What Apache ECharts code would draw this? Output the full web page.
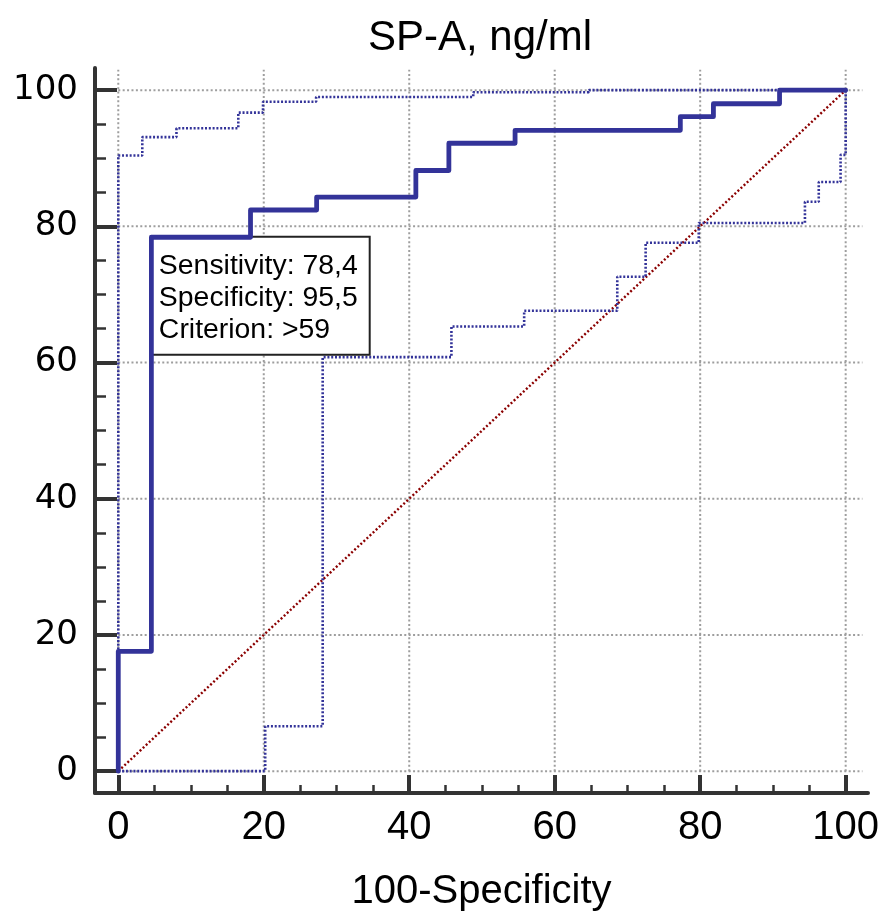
<!DOCTYPE html>
<html>
<head>
<meta charset="utf-8">
<script src="https://cdn.jsdelivr.net/npm/echarts@6/dist/echarts.min.js"></script>
<style>html,body{margin:0;padding:0;background:#fff}#c{width:883px;height:917px}</style>
</head>
<body>
<div id="c"></div>
<script>
// ---- data ----
var titleText = 'SP-A, ng/ml';
var xName = '100-Specificity';
var majorTicks = [0, 20, 40, 60, 80, 100];
var minorTicks = [5, 10, 15, 25, 30, 35, 45, 50, 55, 65, 70, 75, 85, 90, 95];
// ROC curve vertices (top of each vertical jump), step drawn horizontally first
var rocFpr = [0, 0, 4.55, 18.18, 27.27, 40.91, 45.45, 54.55, 77.27, 81.82, 90.91, 100];
var rocTpr = [0, 17.6, 78.4, 82.4, 84.3, 88.2, 92.2, 94.1, 96.1, 98.0, 100, 100];
// upper 95% confidence bound
var upFpr = [0, 0, 3.3, 8.0, 16.5, 19.9, 27.2, 48.8, 64.7, 100];
var upTpr = [0, 90.4, 93.1, 94.4, 96.7, 98.3, 99.0, 99.7, 100, 100];
// lower 95% confidence bound
var loFpr = [0, 20.2, 28.1, 45.8, 55.8, 68.6, 72.5, 79.8, 94.4, 96.3, 99.3, 100];
var loTpr = [0, 6.6, 60.8, 65.3, 67.6, 72.6, 77.6, 80.5, 83.6, 86.5, 90.5, 100];
// reference diagonal
var diagX = [0, 100];
var diagY = [0, 100];
// optimal criterion point and annotation
var optPoint = [4.55, 78.4];
var annotation = ['Sensitivity: 78,4', 'Specificity: 95,5', 'Criterion: >59'];

function zip(a, b) { return a.map(function (v, i) { return [v, b[i]]; }); }

var navy = '#333399';
var axisColor = '#333333';
var gridColor = '#9e9e9e';
var X_MIN = -3.2, X_MAX = 103.07, Y_MIN = -3.21, Y_MAX = 103.25;
var GX_END = 102.3, GY_END = 103.0;

var series = [];
// grid lines
majorTicks.forEach(function (t) {
  series.push({
    type: 'line', silent: true, symbol: 'none', z: 1, animation: false,
    data: [[t, 0], [t, GY_END]],
    lineStyle: { color: gridColor, width: 2, type: [2, 2.4] }
  });
  series.push({
    type: 'line', silent: true, symbol: 'none', z: 1, animation: false,
    data: [[0, t], [GX_END, t]],
    lineStyle: { color: gridColor, width: 2, type: [2, 2.4] }
  });
});
series.push({
  type: 'line', symbol: 'none', z: 3, animation: false,
  data: zip(diagX, diagY),
  lineStyle: { color: '#8b0000', width: 2.4, type: [2, 2.2] }
});
series.push({
  type: 'line', symbol: 'none', step: 'end', z: 4, animation: false,
  data: zip(upFpr, upTpr),
  lineStyle: { color: navy, width: 2.6, type: [2, 1.8] }
});
series.push({
  type: 'line', symbol: 'none', step: 'end', z: 4, animation: false,
  data: zip(loFpr, loTpr),
  lineStyle: { color: navy, width: 2.6, type: [2, 1.8] }
});
series.push({
  type: 'line', symbol: 'none', step: 'end', z: 5, animation: false,
  data: zip(rocFpr, rocTpr),
  lineStyle: { color: navy, width: 4.8, cap: 'round', join: 'round' },
  markPoint: {
    silent: true, animation: false,
    symbol: 'circle', symbolSize: 1,
    itemStyle: { color: 'rgba(0,0,0,0)' },
    data: [{ coord: optPoint }],
    label: {
      show: true,
      position: [1, 1],
      align: 'left', verticalAlign: 'top',
      formatter: annotation.join('\n'),
      fontFamily: 'Liberation Sans', fontSize: 28.4, lineHeight: 32, color: '#000',
      backgroundColor: '#fff', borderColor: '#222', borderWidth: 2,
      padding: [12, 11, 8, 7]
    }
  }
});

var chart = echarts.init(document.getElementById('c'), null, { renderer: 'canvas' });
chart.setOption({
  animation: false,
  backgroundColor: '#fff',
  title: {
    text: titleText, left: 368, top: 17, padding: 0,
    textStyle: { fontFamily: 'Liberation Sans', fontSize: 42, fontWeight: 'normal', color: '#000' }
  },
  grid: { left: 95, right: 15, top: 68, bottom: 119, containLabel: false },
  xAxis: [{
    type: 'value', min: X_MIN, max: X_MAX, position: 'bottom',
    name: xName, nameLocation: 'middle', nameGap: 99,
    nameTextStyle: { fontFamily: 'Liberation Sans', fontSize: 40, color: '#000', verticalAlign: 'middle' },
    axisLine: { show: true, onZero: false, lineStyle: { color: axisColor, width: 4 } },
    axisTick: { show: true, inside: true, length: 18, customValues: majorTicks, lineStyle: { color: axisColor, width: 4 } },
    axisLabel: { show: true, customValues: majorTicks, margin: 15, fontFamily: 'Liberation Sans', fontSize: 40, color: '#000' },
    splitLine: { show: false }
  }, {
    type: 'value', min: X_MIN, max: X_MAX, position: 'bottom', offset: 0,
    axisLine: { show: false, onZero: false },
    axisTick: { show: true, inside: true, length: 8, customValues: minorTicks, lineStyle: { color: axisColor, width: 2.5 } },
    axisLabel: { show: false },
    splitLine: { show: false }
  }],
  yAxis: [{
    type: 'value', min: Y_MIN, max: Y_MAX, position: 'left',
    axisLine: { show: true, onZero: false, lineStyle: { color: axisColor, width: 4 } },
    axisTick: { show: true, inside: true, length: 22, customValues: majorTicks, lineStyle: { color: axisColor, width: 4 } },
    axisLabel: { show: true, customValues: majorTicks, margin: 17, fontFamily: 'DejaVu Sans', fontSize: 34, color: '#000' },
    splitLine: { show: false }
  }, {
    type: 'value', min: Y_MIN, max: Y_MAX, position: 'left', offset: 0,
    axisLine: { show: false, onZero: false },
    axisTick: { show: true, inside: true, length: 11, customValues: minorTicks, lineStyle: { color: axisColor, width: 2.5 } },
    axisLabel: { show: false },
    splitLine: { show: false }
  }],
  series: series
});
</script>
</body>
</html>
